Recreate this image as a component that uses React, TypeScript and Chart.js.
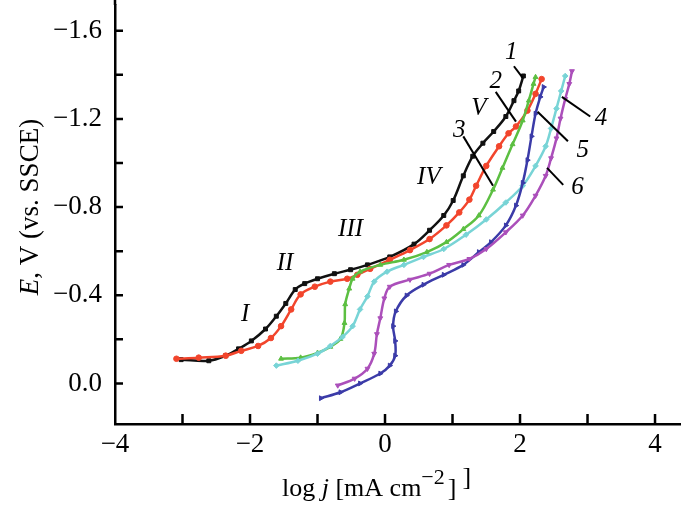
import React, { useEffect, useRef } from 'react';
import { Chart, registerables } from 'chart.js';

Chart.register(...registerables);

// log j [mA cm^-2] , E [V vs SSCE]
const curve1: [number, number][] = [
  [-3.02, -0.108], [-2.61, -0.103], [-2.36, -0.126], [-2.17, -0.157], [-1.98, -0.193], [-1.77, -0.247],
  [-1.61, -0.305], [-1.47, -0.363], [-1.33, -0.426], [-1.19, -0.453], [-1.0, -0.475], [-0.75, -0.498],
  [-0.51, -0.516], [-0.26, -0.538], [0.07, -0.574], [0.43, -0.632], [0.66, -0.695], [0.87, -0.762],
  [1.01, -0.83], [1.16, -0.942], [1.3, -1.031], [1.45, -1.09], [1.61, -1.143], [1.79, -1.211],
  [1.91, -1.283], [1.98, -1.327], [2.05, -1.395],
];
const curve2: [number, number][] = [
  [-3.09, -0.112], [-2.76, -0.117], [-2.36, -0.126], [-2.13, -0.148], [-1.88, -0.17], [-1.69, -0.206],
  [-1.54, -0.26], [-1.39, -0.336], [-1.25, -0.404], [-1.04, -0.439], [-0.81, -0.462], [-0.56, -0.475],
  [-0.41, -0.493], [-0.22, -0.52], [0.07, -0.561], [0.37, -0.605], [0.66, -0.655], [0.91, -0.717],
  [1.1, -0.776], [1.25, -0.834], [1.35, -0.897], [1.5, -0.987], [1.69, -1.076], [1.83, -1.135],
  [1.94, -1.166], [2.11, -1.238], [2.23, -1.314], [2.32, -1.381],
];
const curve3: [number, number][] = [
  [-1.54, -0.112], [-1.25, -0.117], [-1.0, -0.139], [-0.81, -0.166], [-0.66, -0.202], [-0.6, -0.274],
  [-0.59, -0.359], [-0.53, -0.43], [-0.48, -0.475], [-0.37, -0.507], [-0.07, -0.538], [0.28, -0.561],
  [0.62, -0.596], [0.91, -0.641], [1.16, -0.7], [1.39, -0.762], [1.6, -0.879], [1.74, -0.978],
  [1.89, -1.085], [2.04, -1.193], [2.13, -1.283], [2.2, -1.359], [2.23, -1.39],
];
const curve4: [number, number][] = [
  [-1.61, -0.081], [-1.29, -0.103], [-1.0, -0.135], [-0.81, -0.17], [-0.63, -0.211], [-0.48, -0.26],
  [-0.37, -0.336], [-0.26, -0.395], [-0.16, -0.462], [0.03, -0.507], [0.28, -0.538], [0.57, -0.574],
  [0.87, -0.61], [1.2, -0.675], [1.5, -0.744], [1.79, -0.821], [2.04, -0.897], [2.23, -0.987],
  [2.38, -1.076], [2.46, -1.157], [2.54, -1.247], [2.61, -1.327], [2.67, -1.395],
];
const curve5: [number, number][] = [
  [-0.95, 0.067], [-0.66, 0.04], [-0.37, 0.0], [-0.07, -0.045], [0.07, -0.081], [0.15, -0.126],
  [0.15, -0.193], [0.12, -0.26], [0.16, -0.327], [0.32, -0.399], [0.57, -0.448], [0.87, -0.493],
  [1.16, -0.538], [1.39, -0.596], [1.57, -0.641], [1.79, -0.717], [1.94, -0.807], [2.04, -0.91],
  [2.11, -1.013], [2.17, -1.121], [2.23, -1.224], [2.3, -1.3], [2.35, -1.345],
];
const curve6: [number, number][] = [
  [-0.7, 0.009], [-0.45, -0.022], [-0.26, -0.067], [-0.16, -0.135], [-0.12, -0.224], [-0.07, -0.296],
  [-0.01, -0.386], [0.07, -0.439], [0.37, -0.471], [0.66, -0.498], [0.95, -0.538], [1.25, -0.565],
  [1.5, -0.61], [1.79, -0.686], [2.04, -0.762], [2.23, -0.852], [2.38, -0.942], [2.46, -1.022],
  [2.54, -1.112], [2.6, -1.202], [2.67, -1.291], [2.73, -1.359], [2.77, -1.417],
];

const xTickValues = [-4, -3, -2, -1, 0, 1, 2, 3, 4];
const yTickValues = [-1.6, -1.4, -1.2, -1.0, -0.8, -0.6, -0.4, -0.2, 0.0];

// region labels (roman numerals) in data coordinates
const regionLabels: { text: string; x: number; e: number }[] = [
  { text: 'I', x: -2.07, e: -0.314 },
  { text: 'II', x: -1.48, e: -0.543 },
  { text: 'III', x: -0.51, e: -0.7 },
  { text: 'IV', x: 0.65, e: -0.933 },
  { text: 'V', x: 1.39, e: -1.247 },
];
// curve number labels with leader lines (data coordinates)
const curveLabels: { text: string; x: number; e: number; from: [number, number]; to: [number, number] }[] = [
  { text: '1', x: 1.87, e: -1.5, from: [1.91, -1.439], to: [2.04, -1.386] },
  { text: '2', x: 1.64, e: -1.372, from: [1.64, -1.323], to: [1.94, -1.188] },
  { text: '3', x: 1.1, e: -1.148, from: [1.16, -1.121], to: [1.6, -0.897] },
  { text: '4', x: 3.2, e: -1.202, from: [3.04, -1.211], to: [2.62, -1.3] },
  { text: '5', x: 2.93, e: -1.058, from: [2.71, -1.099], to: [2.26, -1.233] },
  { text: '6', x: 2.85, e: -0.888, from: [2.64, -0.901], to: [2.4, -0.978] },
];

const SERIF = '"Liberation Serif", "DejaVu Serif", serif';

const seriesDefs = [
  { data: curve6, color: '#ab4fba', style: 'triangle', rot: 180 },
  { data: curve5, color: '#3b3ba8', style: 'triangle', rot: 90 },
  { data: curve4, color: '#78d4d6', style: 'rectRot', rot: 0 },
  { data: curve3, color: '#5cbf42', style: 'triangle', rot: 0 },
  { data: curve2, color: '#f2452c', style: 'circle', rot: 0 },
  { data: curve1, color: '#111111', style: 'rect', rot: 0 },
];

function minusFmt(v: number, digits: number) {
  const s = Math.abs(v).toFixed(digits);
  return v < -1e-9 ? '\u2212' + s : s;
}

const decorPlugin = {
  id: 'decor',
  afterDraw(chart: any) {
    const ctx = chart.ctx as CanvasRenderingContext2D;
    const xs = chart.scales.x;
    const ys = chart.scales.y;
    const area = chart.chartArea;
    ctx.save();
    // inward ticks
    ctx.strokeStyle = '#000';
    ctx.lineWidth = 2.5;
    ctx.beginPath();
    xTickValues.forEach((v) => {
      if (v === -4) return;
      const px = xs.getPixelForValue(v);
      ctx.moveTo(px, area.bottom);
      ctx.lineTo(px, area.bottom - 10);
    });
    yTickValues.forEach((v) => {
      const py = ys.getPixelForValue(v);
      ctx.moveTo(area.left, py);
      ctx.lineTo(area.left + 8, py);
    });
    // extend y-axis line to the top edge
    ctx.moveTo(area.left, area.top);
    ctx.lineTo(area.left, 0);
    ctx.stroke();

    // region labels
    ctx.fillStyle = '#000';
    ctx.textAlign = 'center';
    ctx.textBaseline = 'middle';
    ctx.font = `italic 25px ${SERIF}`;
    regionLabels.forEach((l) => {
      ctx.fillText(l.text, xs.getPixelForValue(l.x), ys.getPixelForValue(l.e));
    });
    // curve labels + leaders
    ctx.lineWidth = 2;
    curveLabels.forEach((l) => {
      ctx.fillText(l.text, xs.getPixelForValue(l.x), ys.getPixelForValue(l.e));
      ctx.beginPath();
      ctx.moveTo(xs.getPixelForValue(l.from[0]), ys.getPixelForValue(l.from[1]));
      ctx.lineTo(xs.getPixelForValue(l.to[0]), ys.getPixelForValue(l.to[1]));
      ctx.stroke();
    });

    // x title: log j [mA cm−2] ]
    ctx.textAlign = 'left';
    ctx.textBaseline = 'alphabetic';
    const base = 496;
    let cx = 282;
    const seg = (t: string, font: string, dy = 0) => {
      ctx.font = font;
      ctx.fillText(t, cx, base + dy);
      cx += ctx.measureText(t).width;
    };
    seg('log ', `26px ${SERIF}`);
    seg('j', `italic 26px ${SERIF}`);
    seg(' [mA cm', `26px ${SERIF}`);
    seg('\u22122', `22px ${SERIF}`, -12);
    cx += 3;
    seg(']', `26px ${SERIF}`);
    cx += 6;
    seg(']', `26px ${SERIF}`, -11);

    // y title: E, V (vs. SSCE)
    ctx.translate(38, 207);
    ctx.rotate(-Math.PI / 2);
    ctx.font = `italic 27px ${SERIF}`;
    const w1 = ctx.measureText('E').width;
    ctx.font = `27px ${SERIF}`;
    const w2 = ctx.measureText(', V (vs. SSCE)').width;
    const start = -(w1 + w2) / 2;
    ctx.font = `italic 27px ${SERIF}`;
    ctx.fillText('E', start, 0);
    ctx.font = `27px ${SERIF}`;
    ctx.fillText(', V (vs. SSCE)', start + w1, 0);
    ctx.restore();
  },
};

export default function App() {
  const ref = useRef<HTMLCanvasElement>(null);
  useEffect(() => {
    if (!ref.current) return;
    const chart = new Chart(ref.current, {
      type: 'line',
      data: {
        datasets: seriesDefs.map((s) => ({
          data: s.data.map(([x, y]) => ({ x, y })),
          borderColor: s.color,
          backgroundColor: s.color,
          pointBackgroundColor: s.color,
          pointBorderColor: s.color,
          pointStyle: s.style as any,
          pointRotation: s.rot,
          pointRadius: 2.8,
          pointBorderWidth: 1,
          borderWidth: 2.5,
          tension: 0.35,
          fill: false,
        })),
      },
      options: {
        responsive: false,
        animation: false,
        layout: { padding: { left: 0, right: 1, top: 0, bottom: 0 } },
        plugins: { legend: { display: false }, tooltip: { enabled: false } },
        scales: {
          x: {
            type: 'linear',
            min: -4,
            max: 4.37,
            grid: { display: false },
            border: { display: true, color: '#000', width: 2.5 },
            afterBuildTicks: (s: any) => {
              s.ticks = xTickValues.map((v) => ({ value: v }));
            },
            afterFit: (s: any) => {
              s.height = 92;
              s.paddingLeft = 0;
              s.paddingRight = 0;
            },
            ticks: {
              autoSkip: false,
              maxRotation: 0,
              padding: -3,
              color: '#000',
              font: { family: SERIF, size: 27 },
              callback: (v: any) => (Math.abs(v % 2) < 1e-9 ? minusFmt(v, 0) : ''),
            },
          },
          y: {
            type: 'linear',
            reverse: true,
            min: -1.717,
            max: 0.184,
            grid: { display: false },
            border: { display: true, color: '#000', width: 2.5 },
            afterBuildTicks: (s: any) => {
              s.ticks = yTickValues.map((v) => ({ value: v }));
            },
            afterFit: (s: any) => {
              s.width = 115;
              s.paddingTop = 0;
              s.paddingBottom = 0;
            },
            ticks: {
              autoSkip: false,
              padding: 5,
              color: '#000',
              font: { family: SERIF, size: 27 },
              callback: (v: any) => {
                const k = Math.round(v / 0.4);
                return Math.abs(k * 0.4 - v) < 1e-6 ? minusFmt(v, 1) : '';
              },
            },
          },
        },
      },
      plugins: [decorPlugin],
    });
    return () => chart.destroy();
  }, []);
  return (
    <div style={{ position: 'absolute', left: 0, top: 0, width: 685, height: 516, background: '#fff' }}>
      <canvas ref={ref} width={685} height={516} style={{ display: 'block' }} />
    </div>
  );
}
